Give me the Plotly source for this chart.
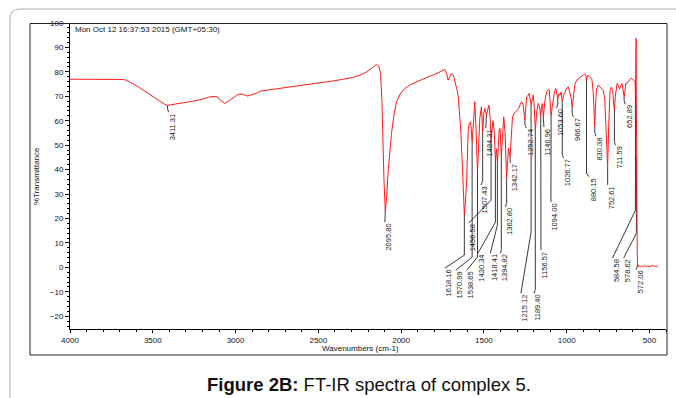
import plotly.graph_objects as go

# FT-IR spectrum of complex 5 (wavenumber in cm-1, %T)
wavenumber = [
    4000, 3950, 3900, 3870, 3860, 3850, 3820, 3760, 3700, 3670,
    3620, 3570, 3520, 3470, 3430, 3411.31, 3390, 3350, 3300, 3250,
    3200, 3156, 3120, 3106, 3090, 3066, 3045, 3010, 2985, 2960,
    2940, 2927, 2905, 2874, 2854, 2800, 2750, 2700, 2655, 2600,
    2550, 2500, 2451, 2400, 2350, 2292, 2250, 2209, 2175, 2149,
    2136, 2124, 2116, 2112, 2104, 2095.80, 2088, 2079, 2068, 2058,
    2044, 2028, 2005, 1978, 1940, 1887, 1846, 1800, 1766, 1745,
    1736, 1726, 1716, 1705, 1695, 1685, 1670, 1660, 1655, 1641,
    1630, 1622, 1618.16, 1612, 1604, 1595, 1588, 1580, 1570.99, 1562,
    1555, 1548, 1538.65, 1530, 1525, 1515, 1507.43, 1500, 1495, 1484.31,
    1476, 1470, 1463, 1456.58, 1450, 1445, 1438, 1430.34, 1424, 1418.41,
    1412, 1408, 1402, 1394.82, 1388, 1380, 1372, 1362.80, 1356, 1352,
    1342.17, 1335, 1327, 1315, 1302, 1290, 1280, 1272, 1263, 1252.74,
    1246, 1242, 1235, 1226, 1215.12, 1208, 1202, 1196, 1189.40, 1180,
    1172, 1164, 1156.57, 1150, 1146, 1140.96, 1132, 1121, 1110, 1105,
    1100, 1094.00, 1087, 1081, 1073, 1065, 1058, 1053.60, 1047, 1040,
    1033, 1026.77, 1018, 1010, 1000, 990, 980, 972, 966.67, 958,
    950, 940, 920, 900, 890, 884, 880.15, 874, 866, 856,
    848, 840, 834, 830.38, 826, 820, 810, 795, 780, 770,
    760, 752.61, 746, 738, 730, 722, 716, 711.59, 706, 700,
    695, 688, 680, 672, 666, 660, 655, 652.89, 648, 642,
    637, 628, 620, 612, 607, 600, 595, 589, 587, 584.58,
    582.5, 580.5, 579.5, 578.62, 576, 574, 572.06, 570, 566, 560,
    554, 548, 540, 530, 520, 510, 500, 490, 480, 470,
    460, 452, 448,
]
transmittance = [
    77.0, 77.0, 77.1, 76.9, 77.2, 77.0, 77.1, 77.0, 76.9, 76.8,
    75.2, 73.1, 70.9, 68.4, 66.8, 66.3, 66.5, 67.0, 67.5, 68.1,
    68.8, 69.8, 69.9, 69.6, 68.2, 67.1, 67.9, 69.8, 70.8, 70.9,
    70.3, 70.1, 70.6, 71.2, 72.1, 72.6, 73.1, 73.5, 73.9, 74.3,
    74.8, 75.2, 75.7, 76.4, 77.0, 77.7, 78.6, 80.0, 81.6, 83.1,
    82.5, 79.4, 68.0, 56.2, 37.1, 22.8, 28.0, 38.6, 47.5, 54.8,
    62.0, 67.8, 71.0, 73.2, 74.9, 76.6, 77.7, 78.9, 80.0, 80.8,
    81.0, 79.5, 76.6, 78.2, 79.4, 78.8, 75.3, 72.0, 69.8, 57.5,
    42.0, 28.0, 21.5, 26.0, 35.7, 56.0, 59.0, 59.6, 51.4, 60.0,
    67.8, 58.0, 39.1, 52.0, 60.9, 65.7, 55.5, 63.0, 65.0, 62.3,
    64.5, 66.4, 62.0, 52.1, 57.0, 60.0, 56.0, 43.9, 48.5, 42.5,
    50.0, 56.2, 56.9, 45.3, 53.0, 61.6, 55.0, 36.3, 44.0, 48.7,
    45.3, 55.0, 61.6, 63.2, 64.4, 65.0, 66.8, 67.8, 66.5, 60.2,
    66.0, 69.8, 70.2, 71.2, 66.4, 69.5, 70.5, 66.0, 56.2, 64.0,
    67.1, 66.0, 62.3, 66.5, 67.0, 61.0, 68.0, 71.9, 72.8, 72.5,
    68.0, 61.8, 66.0, 69.8, 72.0, 73.2, 70.5, 68.8, 71.0, 70.5,
    71.8, 67.9, 70.5, 71.9, 73.2, 73.9, 71.0, 69.0, 65.5, 72.0,
    75.0, 76.6, 77.8, 78.7, 79.1, 78.5, 76.5, 78.6, 78.4, 77.5,
    77.0, 72.0, 62.0, 57.5, 66.0, 72.8, 74.6, 73.5, 72.5, 69.0,
    55.0, 41.2, 58.0, 72.5, 73.8, 72.0, 67.0, 64.4, 70.0, 74.5,
    75.3, 74.2, 73.0, 74.5, 75.3, 73.0, 71.0, 69.8, 72.0, 75.5,
    75.3, 76.2, 76.6, 77.3, 77.3, 76.8, 76.5, 76.2, 75.9, 69.7,
    80.0, 93.8, 75.0, 45.0, 22.0, 8.0, 1.5, 0.6, 0.3, 0.7,
    0.2, 0.5, 0.3, 0.8, 0.3, 0.6, 0.2, 0.5, 0.9, 0.4,
    0.6, 0.3, 0.5,
]

# Picked peaks (cm-1)
peak_labels = [
    "3411.31", "2095.80", "1618.16", "1570.99", "1538.65", "1507.43",
    "1484.31", "1456.58", "1430.34", "1418.41", "1394.82", "1362.80",
    "1342.17", "1252.74", "1215.12", "1189.40", "1156.57", "1140.96",
    "1094.00", "1053.60", "1026.77", "966.67", "880.15", "830.38",
    "752.61", "711.59", "652.89", "584.58", "578.62", "572.06",
]
peak_wn = [float(s) for s in peak_labels]

# Label placement: centre wavenumber, top %T, and where the leader bends
label_x = [3380, 2074, 1712, 1645, 1579, 1494, 1464, 1568, 1512, 1437,
           1376, 1346, 1316, 1219, 1252, 1173, 1131, 1113, 1071, 1037,
           995, 935, 841, 799, 728, 682, 622, 699, 632, 557]
label_top = [63.5, 18.5, -0.3, -1.1, -1.1, 33.7, 57.0, 18.1, 5.8, 5.8,
             5.8, 24.7, 42.6, 57.0, -10.6, -10.6, 7.1, 57.4, 26.7, 65.2,
             44.7, 61.5, 37.1, 53.7, 33.7, 50.0, 66.8, 3.8, 3.8, -1.0]
label_bend = [None, None, 5.0, 4.2, 4.2, None, None, 27.5, 18.5, 17.3,
              None, None, None, None, 14.4, None, None, None, None, None,
              None, None, None, None, None, None, None, 23.4, 14.0, None]

t_at = dict(zip(wavenumber, transmittance))
wn_per_px = 6.046
edge_off = 4 * wn_per_px  # leader meets label's leading edge

lead_x, lead_y = [], []
for wn, lx, top, bend in zip(peak_wn, label_x, label_top, label_bend):
    t0 = t_at[wn]
    b = bend if bend is not None else top + 1.5
    lead_x += [wn, wn, lx + edge_off, None]
    lead_y += [t0, b, top, None]

fig = go.Figure()
fig.add_trace(go.Scatter(x=lead_x, y=lead_y, mode="lines",
                         line=dict(color="#222222", width=0.9),
                         hoverinfo="skip"))
fig.add_trace(go.Scatter(x=wavenumber, y=transmittance, mode="lines",
                         line=dict(color="#ff1a1a", width=1)))

font = "Liberation Sans, Arial, sans-serif"
for txt, lx, top in zip(peak_labels, label_x, label_top):
    fig.add_annotation(x=lx, y=top, xref="x", yref="y", text=txt,
                       textangle=-90, showarrow=False, xanchor="center",
                       yanchor="top", borderpad=0,
                       font=dict(family=font, size=7.5, color="#1a1a1a"))

# plot area in px: x 70..666, y 23..329
def px(xp):
    return (xp - 70) / 596

def py(yp):
    return (329 - yp) / 306

fig.add_annotation(x=px(73), y=py(29.5), xref="paper", yref="paper",
                   text="Mon Oct 12 16:37:53 2015 (GMT+05:30)", showarrow=False,
                   xanchor="left", yanchor="middle",
                   font=dict(family=font, size=8, color="#111"))
fig.add_annotation(x=px(36), y=0.5, xref="paper", yref="paper",
                   text="%Transmittance", textangle=-90, showarrow=False,
                   xanchor="center", yanchor="middle",
                   font=dict(family=font, size=8, color="#111"))
fig.add_annotation(x=px(360), y=py(348), xref="paper", yref="paper",
                   text="Wavenumbers (cm-1)", showarrow=False,
                   xanchor="center", yanchor="middle",
                   font=dict(family=font, size=8, color="#111"))
fig.add_annotation(x=px(368.5), y=py(384), xref="paper", yref="paper",
                   text="<b>Figure 2B:</b> FT-IR spectra of complex 5.",
                   showarrow=False, xanchor="center", yanchor="middle",
                   font=dict(family=font, size=18.5, color="#111"))

# inner frame and outer rounded panel
fig.add_shape(type="rect", xref="paper", yref="paper",
              x0=px(30), x1=px(667), y0=py(355), y1=py(23.5),
              line=dict(color="#222", width=1))
fig.add_shape(type="path", xref="paper", yref="paper",
              path=(f"M {px(10)} {py(400)} L {px(10)} {py(19)} "
                    f"Q {px(10)} {py(9)} {px(20)} {py(9)} L {px(680)} {py(9)}"),
              line=dict(color="#b0b0b0", width=1))

fig.update_xaxes(range=[4000, 400], autorange=False, dtick=500, tick0=0,
                 showline=True, linecolor="black", linewidth=1,
                 ticks="outside", ticklen=3, tickcolor="black",
                 minor=dict(dtick=100, ticks="outside", ticklen=2, tickcolor="black"),
                 showgrid=False, zeroline=False,
                 tickfont=dict(family=font, size=8, color="#111"))
fig.update_yaxes(range=[-25.2, 100], autorange=False, dtick=10, tick0=0,
                 showline=True, linecolor="black", linewidth=1,
                 ticks="outside", ticklen=4, tickcolor="black",
                 minor=dict(dtick=2, ticks="outside", ticklen=2, tickcolor="black"),
                 showgrid=False, zeroline=False,
                 tickfont=dict(family=font, size=8, color="#111"))

fig.update_layout(width=676, height=398, showlegend=False,
                  margin=dict(l=70, r=10, t=23, b=69),
                  paper_bgcolor="white", plot_bgcolor="white")

fig.write_html("out.html")
